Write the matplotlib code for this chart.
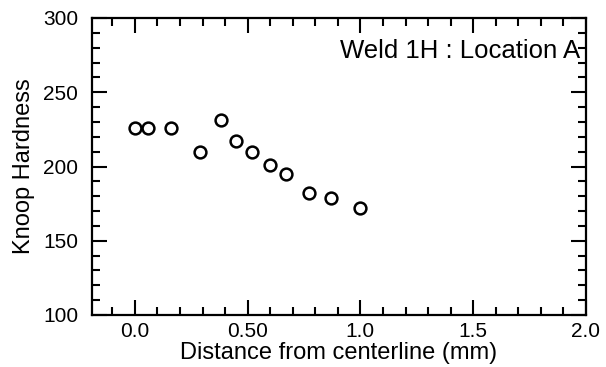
import numpy as np
import matplotlib
matplotlib.use('Agg')
import matplotlib.pyplot as plt
from matplotlib.ticker import MultipleLocator

plt.rcParams['font.family'] = ['Liberation Sans', 'DejaVu Sans']

# distance from centerline (mm) and Knoop hardness
dist = [0.0, 0.06, 0.16, 0.29, 0.38, 0.45, 0.52, 0.60, 0.67, 0.77, 0.87, 1.0]
hardness = [226, 226, 226, 210, 231, 217, 210, 201, 195, 182, 179, 172]

xticks = [0.0, 0.5, 1.0, 1.5, 2.0]
xticklabels = ['0.0', '0.50', '1.0', '1.5', '2.0']
yticks = [100, 150, 200, 250, 300]

fig = plt.figure(figsize=(6.06, 3.67), dpi=100)
ax = fig.add_axes([92/606, 1 - 315/367, (586-92)/606, (315-18)/367])

ax.plot(dist, hardness, 'o', mfc='white', mec='black', mew=1.8, ms=8.5)

ax.set_xlim(-0.19, 2.0)
ax.set_ylim(100, 300)
ax.set_xticks(xticks)
ax.set_xticklabels(xticklabels)
ax.set_yticks(yticks)
ax.xaxis.set_minor_locator(MultipleLocator(0.1))
ax.yaxis.set_minor_locator(MultipleLocator(10))
ax.tick_params(which='both', direction='in', top=True, right=True, labelsize=15, width=1.5)
ax.tick_params(which='major', length=11)
ax.tick_params(axis='x', which='major', pad=5)
ax.tick_params(axis='y', which='major', pad=10)
ax.tick_params(which='minor', length=5.5)
for s in ax.spines.values():
    s.set_linewidth(1.6)

ax.text(1.975, 278, 'Weld 1H : Location A', ha='right', va='center', fontsize=18.5)
ax.set_xlabel('Distance from centerline (mm)', fontsize=17, labelpad=1)
ax.set_ylabel('Knoop Hardness', fontsize=17, labelpad=6)

plt.savefig('out.png')
